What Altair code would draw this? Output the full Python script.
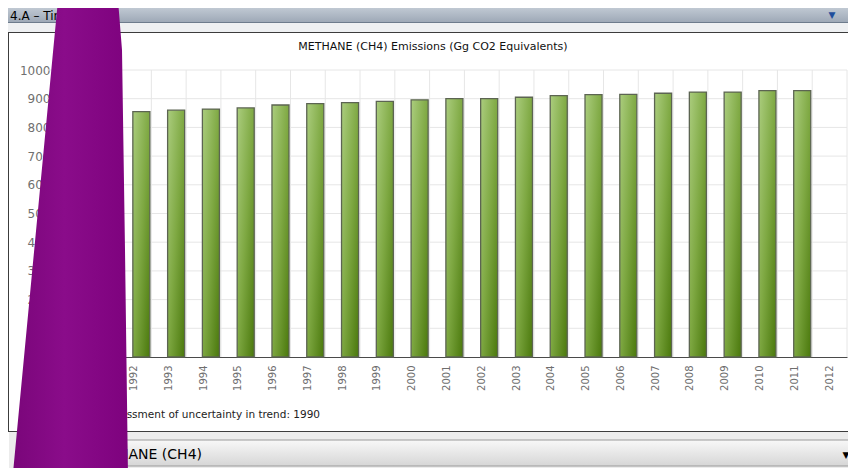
import altair as alt
import pandas as pd

# ---------------- data ----------------
years = [str(y) for y in range(1990, 2013)]
emis_years = [str(y) for y in range(1990, 2012)]
emissions = [845, 850, 855, 860, 864, 868, 878, 883, 886, 891, 896,
             900, 900, 905, 911, 914, 915, 919, 923, 923, 928, 928]
y_ticks = [0, 100, 200, 300, 400, 500, 600, 700, 800, 900, 1000]

chart_title = "METHANE (CH4) Emissions (Gg CO2 Equivalents)"
window_title = "4.A – Time series"
footnote = "Base year for assessment of uncertainty in trend: 1990"
selector_text = "METHANE (CH4)"

# ---------------- layout ----------------
W, H = 800, 287          # plot area
OX, OY = 47, 70          # plot origin in page pixels


def px(x):
    return x - OX


def py(y):
    return y - OY


one = pd.DataFrame({"k": [0]})
df = pd.DataFrame({"year": emis_years, "value": emissions})
cats = pd.DataFrame({"year": years})
hlines = pd.DataFrame({"value": y_ticks[1:]})

xscale = alt.Scale(domain=years, paddingInner=0, paddingOuter=0)
yscale = alt.Scale(domain=[0, 1000], nice=False, zero=True)

FONT = "DejaVu Sans"

x_axis = alt.Axis(title=None, labelAngle=-90, bandPosition=0.71,
                  labelPadding=8, ticks=False, tickSize=0, grid=False,
                  domain=True, domainColor="#4a4a4a", domainWidth=1,
                  labelColor="#6e6e6e", labelFont=FONT, labelFontSize=10,
                  labelOverlap=False)
y_axis = alt.Axis(title=None, values=y_ticks, format="d", grid=False,
                  domain=False, ticks=False, tickSize=0, offset=-8,
                  labelPadding=5, labelColor="#707070", labelFont=FONT,
                  labelFontSize=12)

bar_fill = {"gradient": "linear", "x1": 0, "y1": 0, "x2": 1, "y2": 1,
            "stops": [{"offset": 0, "color": "#abcd7e"},
                      {"offset": 0.5, "color": "#7ea842"},
                      {"offset": 1, "color": "#4a780c"}]}

grid_h = alt.Chart(hlines).mark_rule(color="#e6e6e6", strokeWidth=1).encode(
    y=alt.Y("value:Q", scale=yscale, axis=y_axis))
grid_v = alt.Chart(cats).mark_rule(color="#e6e6e6", strokeWidth=1).encode(
    x=alt.X("year:N", scale=xscale, bandPosition=1, axis=x_axis))

bars = alt.Chart(df).mark_bar(
    width=alt.RelativeBandSize(0.49), xOffset=7.4,
    fill=bar_fill, stroke="#5c6452", strokeWidth=1.3
).encode(
    x=alt.X("year:N", scale=xscale, sort=None, axis=x_axis),
    y=alt.Y("value:Q", scale=yscale, axis=y_axis),
)

main = alt.layer(grid_h, grid_v, bars)


# ---------------- window chrome (decoration) ----------------
def rect(x1, y1, x2, y2, **kw):
    return alt.Chart(one).mark_rect(**kw).encode(
        x=alt.value(px(x1)), x2=alt.value(px(x2)),
        y=alt.value(py(y1)), y2=alt.value(py(y2)))


def hline(y, x1, x2, color, w=1):
    return alt.Chart(one).mark_rule(color=color, strokeWidth=w).encode(
        x=alt.value(px(x1)), x2=alt.value(px(x2)), y=alt.value(py(y)))


def vline(x, y1, y2, color, w=1):
    return alt.Chart(one).mark_rule(color=color, strokeWidth=w).encode(
        x=alt.value(px(x)), y=alt.value(py(y1)), y2=alt.value(py(y2)))


def label(text, x, y, **kw):
    return alt.Chart(one).mark_text(text=text, **kw).encode(
        x=alt.value(px(x)), y=alt.value(py(y)))


titlebar_fill = {"gradient": "linear", "x1": 0, "y1": 0, "x2": 0, "y2": 1,
                 "stops": [{"offset": 0, "color": "#d3dae2"},
                           {"offset": 1, "color": "#9ea9b7"}]}
combo_fill = {"gradient": "linear", "x1": 0, "y1": 0, "x2": 0, "y2": 1,
              "stops": [{"offset": 0, "color": "#f8f8f8"},
                        {"offset": 1, "color": "#d6d6d6"}]}

back = [
    rect(0, 0, 860, 22, fill=titlebar_fill),
    hline(22.5, 0, 860, "#6d7b8c"),
    rect(0, 23, 860, 32, fill="#eef0f2"),
    hline(32.5, 8, 860, "#3c3c3c"),
    vline(8.5, 32.5, 431.5, "#3c3c3c"),
    hline(431.5, 8, 860, "#3c3c3c"),
    rect(9, 432, 860, 476, fill="#ececec"),
]
front = [
    rect(60, 440, 860, 466, fill=combo_fill, stroke="#9a9a9a", strokeWidth=1),
    label(window_title, 10, 15.5, align="left", baseline="middle",
          font=FONT, fontSize=12, color="#000000"),
    label("▼", 832, 15, align="center", baseline="middle",
          font=FONT, fontSize=9, color="#1f4e9c"),
    label(chart_title, 433, 47, align="center", baseline="middle",
          font=FONT, fontSize=11, color="#111111"),
    label(footnote, 320, 415, align="right", baseline="middle",
          font=FONT, fontSize=10.5, color="#222222"),
    label(selector_text, 202, 455, align="right", baseline="middle",
          font=FONT, fontSize=14, color="#000000"),
    label("▼", 846, 455, align="center", baseline="middle",
          font=FONT, fontSize=9, color="#000000"),
]

# ---------------- purple occluding band (decoration) ----------------
occl = pd.DataFrame({
    "yy": [py(v) for v in [0, 50, 250, 476]],
    "xl": [px(v) for v in [58, 53.2, 34.2, 12.7]],
    "xr": [px(v) for v in [118, 122, 125, 128]],
})
purple_fill = {"gradient": "linear", "x1": 0, "y1": 0, "x2": 1, "y2": 0,
               "stops": [{"offset": 0, "color": "#7a067a"},
                         {"offset": 0.45, "color": "#8a0c8a"},
                         {"offset": 1, "color": "#7e027e"}]}
purple = alt.Chart(occl).mark_area(orient="horizontal", fill=purple_fill).encode(
    y=alt.Y("yy:Q", scale=alt.Scale(domain=[-70, 406], range=[-70, 406],
                                    nice=False, zero=False), axis=None),
    x=alt.X("xl:Q", scale=alt.Scale(domain=[-47, 801], range=[-47, 801],
                                    nice=False, zero=False), axis=None),
    x2="xr:Q",
)

chart = alt.layer(*back, main, *front, purple).resolve_scale(
    x="independent", y="independent"
).properties(
    width=W, height=H,
    padding={"left": 39, "top": 62, "right": 1, "bottom": 111},
    autosize=alt.AutoSizeParams(type="none"),
    background="white",
).configure_view(strokeWidth=0)

chart.save("out.html", embed_options={"renderer": "svg", "actions": False})
